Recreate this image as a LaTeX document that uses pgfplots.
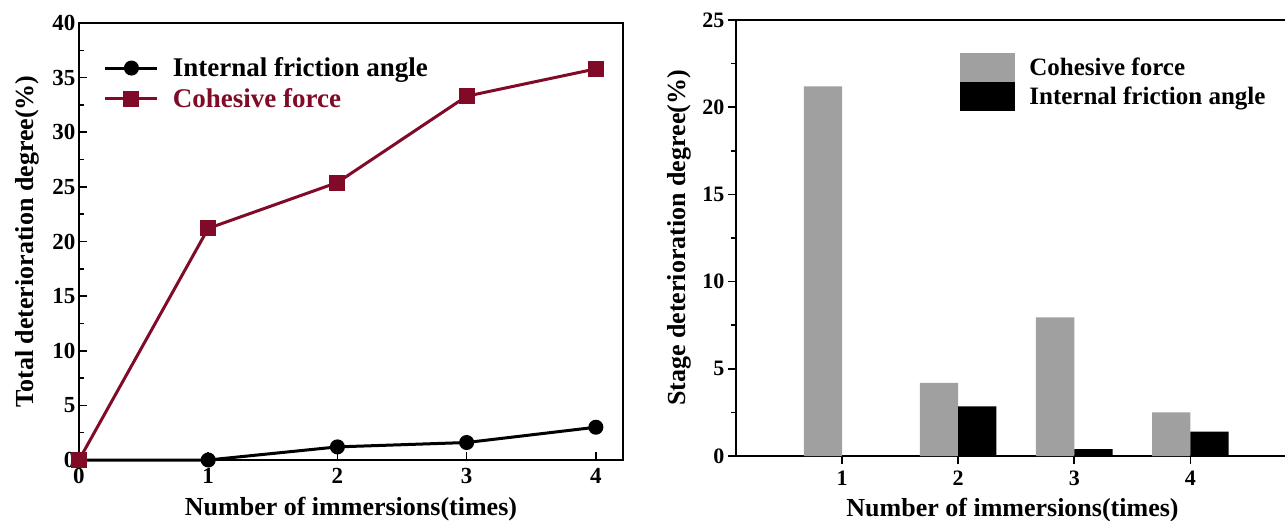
\documentclass[border=0pt]{standalone}
\usepackage{pgfplots}
\pgfplotsset{compat=1.18}
\usepackage{fontspec}
\setmainfont{Liberation Serif}
\definecolor{wine}{RGB}{128,10,40}
\definecolor{bargray}{RGB}{160,160,160}
\begin{document}
\begin{tikzpicture}
\useasboundingbox (0pt,0pt) rectangle (1285pt,520pt);
\begin{axis}[
  at={(79pt,60pt)}, anchor=south west,
  scale only axis, width=544pt, height=437pt,
  xmin=0, xmax=4.21, ymin=0, ymax=40,
  xtick={0,1,2,3,4}, ytick={0,5,...,40},
  minor y tick num=1,
  tick align=inside,
  xtick pos=bottom, ytick pos=left,
  major tick length=8pt, minor tick length=5pt,
  axis line style={line width=2pt},
  every tick/.style={black, line width=1.6pt},
  /pgf/number format/assume math mode=true,
  tick label style={font=\fontsize{23}{23}\selectfont\bfseries},
  xticklabel style={yshift=-5pt},
  label style={font=\fontsize{26}{26}\selectfont\bfseries},
  xlabel={Number of immersions(times)},
  ylabel={Total deterioration degree(\%)},
  xlabel style={yshift=-6pt},
  ylabel style={yshift=6pt},
  clip=false,
  legend cell align=left,
  legend style={at={(0.04,0.93)}, anchor=north west, draw=none, fill=none,
    font=\fontsize{27}{27}\selectfont\bfseries, row sep=6pt,
    /tikz/every odd column/.append style={column sep=12pt}},
  legend image code/.code={
    \draw[#1, mark repeat=2, mark phase=2] plot coordinates {(0pt,0pt) (26pt,0pt) (52pt,0pt)};},
]
\addplot[black, line width=3pt, mark=*, mark size=6pt] coordinates {
 (0,0) (1,0) (2,1.2) (3,1.6) (4,3.0)};
\addlegendentry{Internal friction angle}
\addplot[wine, line width=3pt, mark=square*, mark size=6.5pt] coordinates {
 (0,0) (1,21.2) (2,25.4) (3,33.3) (4,35.8)};
\addlegendentry{\textcolor{wine}{Cohesive force}}
\end{axis}

\begin{axis}[
  at={(736pt,64pt)}, anchor=south west,
  scale only axis, width=553pt, height=436pt,
  xmin=0.086, xmax=4.85, ymin=0, ymax=25,
  xtick={1,2,3,4}, ytick={0,5,...,25},
  minor y tick num=1,
  tick align=outside,
  xtick pos=bottom, ytick pos=left,
  major tick length=8pt, minor tick length=5pt,
  axis line style={line width=2pt},
  every tick/.style={black, line width=1.6pt},
  /pgf/number format/assume math mode=true,
  tick label style={font=\fontsize{22}{22}\selectfont\bfseries},
  xticklabel style={yshift=-3pt},
  label style={font=\fontsize{26}{26}\selectfont\bfseries},
  xlabel={Number of immersions(times)},
  ylabel={Stage deterioration degree(\%)},
  xlabel style={yshift=-6pt},
  ylabel style={yshift=4pt},
  clip=false,
  legend cell align=left,
  legend style={at={(0.40,0.93)}, anchor=north west, draw=none, fill=none,
    font=\fontsize{25}{25}\selectfont\bfseries, row sep=0pt,
    /tikz/every odd column/.append style={column sep=12pt}},
  legend image code/.code={\fill[#1] (0pt,-14.5pt) rectangle (55pt,14.5pt);},
]
\addplot[ybar, bar width=0.33, bar shift=-0.165, fill=bargray, draw=none] coordinates {
 (1,21.2) (2,4.2) (3,7.95) (4,2.5)};
\addlegendentry{Cohesive force}
\addplot[ybar, bar width=0.33, bar shift=0.165, fill=black, draw=none] coordinates {
 (1,0) (2,2.85) (3,0.4) (4,1.4)};
\addlegendentry{Internal friction angle}
\end{axis}
\end{tikzpicture}
\end{document}
